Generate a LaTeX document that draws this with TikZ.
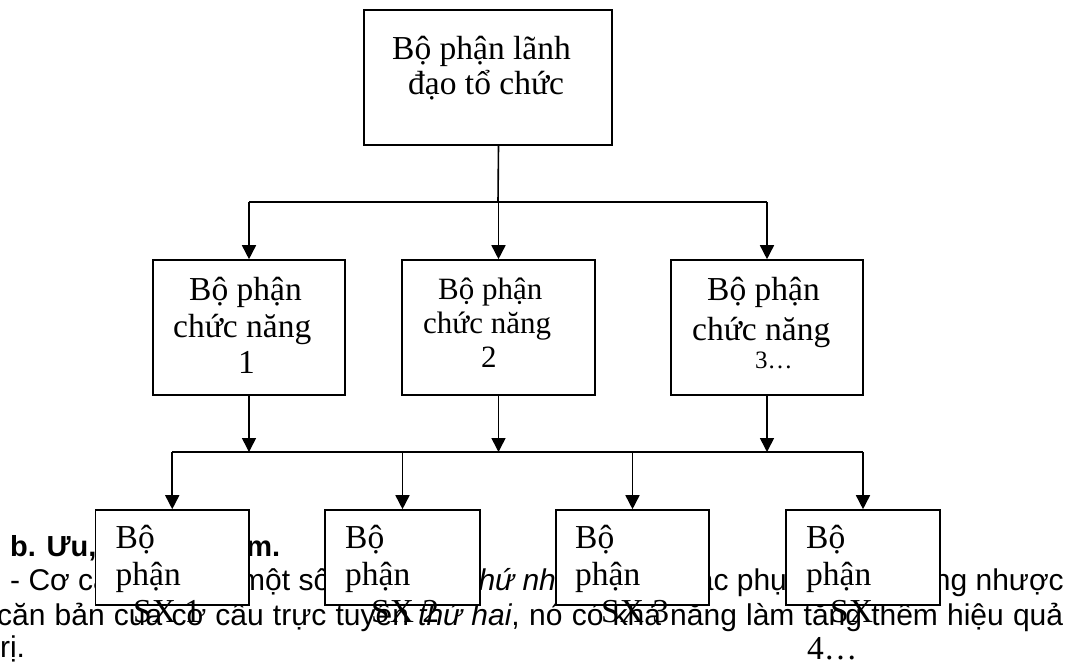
\documentclass[tikz,border=0pt]{standalone}
\usepackage{fontspec}
\usetikzlibrary{arrows.meta}
\newfontfamily\boxfont{Liberation Serif}
\newfontfamily\bodyfont{Liberation Sans}
\begin{document}
\begin{tikzpicture}[x=1pt,y=-1pt,
  box/.style={draw, line width=1.6pt, fill=white, inner sep=0pt},
  lbl/.style={anchor=base west, inner sep=0pt, font=\boxfont\fontsize{33.5}{38}\selectfont},
  lblsmall/.style={lbl, font=\boxfont\fontsize{31}{36}\selectfont},
  body/.style={anchor=base west, inner sep=0pt, font=\bodyfont\fontsize{30}{34}\selectfont},
  link/.style={line width=1.6pt},
  arr/.style={link, -{Triangle[width=14pt,length=14pt]}}]
\useasboundingbox (0,0) rectangle (1071,666);
\fill[white] (0,0) rectangle (1071,666);

% running text of the page behind the chart
\node[body, font=\bodyfont\bfseries\fontsize{29}{34}\selectfont] (h1) at (10,556)
  {\makebox[270pt][s]{b. Ưu, nhược điểm.}};
\node[body] (p1) at (10,590) {- Cơ cấu};
\node[body] (p2) at (240,590) {một số};
\node[body] (p3) at (470,590) {\textit{thứ nhất}};
\node[body] (p4) at (665,590) {khắc phục};
\node[body, anchor=base east] (p5) at (1064,590) {những nhược};
\node[body] (p6) at (-3,625)
  {\makebox[1066pt][s]{căn bản của cơ cấu trực tuyến \textit{thứ hai}, nó có khả năng làm tăng thêm hiệu quả}};
\node[body] (p7) at (-8.5,657) {trị.};

% boxes
\node[box, minimum width=248pt, minimum height=135pt] (top) at (488,77.5) {};
\node[box, minimum width=192pt, minimum height=135pt] (m1) at (249,327.5) {};
\node[box, minimum width=193pt, minimum height=135pt] (m2) at (498.5,327.5) {};
\node[box, minimum width=192pt, minimum height=135pt] (m3) at (767,327.5) {};
\node[box, minimum width=153.5pt, minimum height=95pt] (b1) at (172.25,557.5) {};
\node[box, minimum width=155pt, minimum height=95pt] (b2) at (402.5,557.5) {};
\node[box, minimum width=153pt, minimum height=95pt] (b3) at (632.5,557.5) {};
\node[box, minimum width=154pt, minimum height=95pt] (b4) at (863,557.5) {};

% box texts
\node[lbl] (t1) at (392,60) {Bộ phận lãnh};
\node[lbl] (t2) at (408,95) {đạo tổ chức};

\node[lbl] (m1a) at (189,300) {Bộ phận};
\node[lbl] (m1b) at (173,337) {chức năng};
\node[lbl] (m1c) at (238,373) {1};

\node[lblsmall] (m2a) at (438,299) {Bộ phận};
\node[lblsmall] (m2b) at (423,333) {chức năng};
\node[lblsmall] (m2c) at (481,367) {2};

\node[lbl] (m3a) at (707,300) {Bộ phận};
\node[lbl] (m3b) at (692,340) {chức năng};
\node[lbl, font=\boxfont\fontsize{25}{30}\selectfont] (m3c) at (755,368) {3…};

\node[lbl] (b1a) at (115.5,548) {Bộ};
\node[lbl] (b1b) at (115.5,585) {phận};
\node[lbl] (b1c) at (133,622) {SX 1};

\node[lbl] (b2a) at (345,548) {Bộ};
\node[lbl] (b2b) at (345,585) {phận};
\node[lbl] (b2c) at (371,622) {SX 2};

\node[lbl] (b3a) at (575,548) {Bộ};
\node[lbl] (b3b) at (575,585) {phận};
\node[lbl] (b3c) at (601,622) {SX 3};

\node[lbl] (b4a) at (806,548) {Bộ};
\node[lbl] (b4b) at (806,585) {phận};
\node[lbl] (b4c) at (830,622) {SX};
\node[lbl] (b4d) at (807,659) {4…};

% connectors
\coordinate (busA) at (498,202);
\coordinate (busB) at (498,452);
\draw[link] (top.south -| m2.north) -- (busA);
\draw[link] (busA -| m1) -- (busA -| m3);
\draw[arr] (busA -| m1) -- (m1.north);
\draw[arr] (busA -| m2) -- (m2.north);
\draw[arr] (busA -| m3) -- (m3.north);

\draw[arr] (m1.south) -- (m1.south |- busB);
\draw[arr] (m2.south) -- (m2.south |- busB);
\draw[arr] (m3.south) -- (m3.south |- busB);
\draw[link] (busB -| b1) -- (busB -| b4);
\draw[arr] (busB -| b1) -- (b1.north);
\draw[arr] (busB -| b2) -- (b2.north);
\draw[arr] (busB -| b3) -- (b3.north);
\draw[arr] (busB -| b4) -- (b4.north);
\end{tikzpicture}
\end{document}
